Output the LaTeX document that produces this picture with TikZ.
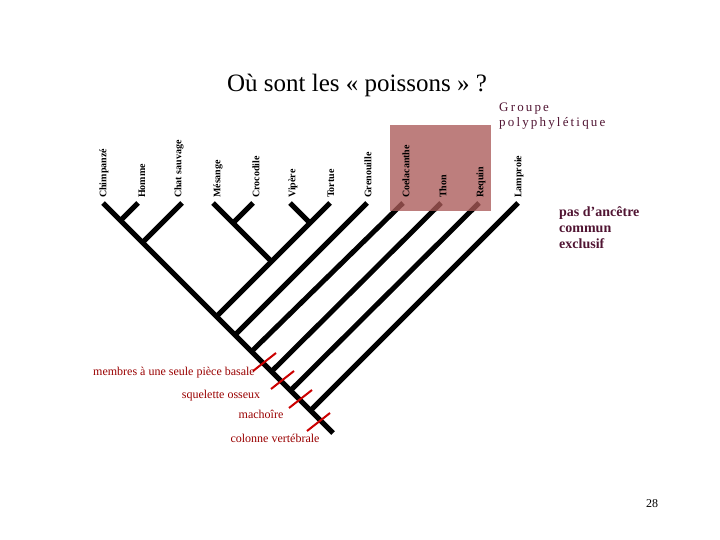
\documentclass[tikz,border=0pt]{standalone}
\usepackage{fontspec}
\setmainfont{Liberation Serif}
\begin{document}
\begin{tikzpicture}[x=1pt,y=-1pt,
  br/.style={line width=5pt},
  tick/.style={draw=red!80!black,line width=2pt},
  taxon/.style={rotate=90,anchor=west,font=\fontsize{10}{12}\selectfont\bfseries,inner sep=0pt},
  red lab/.style={text=red!60!black,font=\fontsize{12}{14}\selectfont,inner sep=0pt},
  purp/.style={text=black!60!red!60!blue,font=\fontsize{14}{16}\selectfont\bfseries,align=left,inner sep=0pt}]
\useasboundingbox (0,0) rectangle (720,540);
\node[font=\fontsize{25}{30}\selectfont,anchor=base] (title) at (357,92) {Où sont les « poissons » ?};
% tips
\foreach \n/\x in {chi/103,hom/138,cha/182,mes/213,cro/253,vip/290,tor/330,gre/367,coe/403,tho/441,req/479,lam/518}
  \coordinate (t\n) at (\x,203);
\coordinate (root) at (333,433);
\coordinate (jhom) at (120.5,220.5);
\coordinate (jcha) at (142.5,242.5);
\coordinate (jmc) at (233,223);
\coordinate (jvt) at (310,223);
\coordinate (jsau) at (271.5,261.5);
\coordinate (jsaut) at (216.5,316.5);
\coordinate (jgre) at (235,335);
\coordinate (jcoe) at (251.5,351.5);
\coordinate (jtho) at (271.5,371.5);
\coordinate (jreq) at (290.5,390.5);
\coordinate (jlam) at (310.5,410.5);
\draw[br] (tchi) -- (root);
\draw[br] (thom) -- (jhom);
\draw[br] (tcha) -- (jcha);
\draw[br] (tmes) -- (jsau);
\draw[br] (tcro) -- (jmc);
\draw[br] (tvip) -- (jvt);
\draw[br] (ttor) -- (jsaut);
\draw[br] (tgre) -- (jgre);
\draw[br] (tcoe) -- (jcoe);
\draw[br] (ttho) -- (jtho);
\draw[br] (treq) -- (jreq);
\draw[br] (tlam) -- (jlam);
\fill[fill={rgb,255:red,170;green,90;blue,88},opacity=0.78] (390,125) rectangle (491,211);
\foreach \n/\x/\t in {chi/104/Chimpanzé,hom/142/Homme,cha/179/Chat sauvage,mes/218/Mésange,cro/256/Crocodile,vip/293/Vipère,tor/331/Tortue,gre/368/Grenouille,coe/406/Coelacanthe,tho/443/Thon,req/481/Requin,lam/519/Lamproie}
  \node[taxon] (l\n) at (\x,198) {\t};
\node[font=\fontsize{13}{15}\selectfont,text={rgb,255:red,80;green,20;blue,50},align=left,anchor=north west,inner sep=0pt] (grp) at (499,103) {G\,r\,o\,u\,p\,e\\p\,o\,l\,y\,p\,h\,y\,l\,é\,t\,i\,q\,u\,e};
\node[purp,text={rgb,255:red,80;green,20;blue,50},anchor=north west] (pas) at (559,206) {pas d’ancêtre\\commun\\exclusif};
% ticks
\coordinate (a1) at (253,371); \coordinate (b1) at (276,353);
\coordinate (a2) at (271,389); \coordinate (b2) at (294,371);
\coordinate (a3) at (289,408); \coordinate (b3) at (312,390);
\coordinate (a4) at (307,431); \coordinate (b4) at (330,413);
\draw[tick] (a1) -- (b1);
\draw[tick] (a2) -- (b2);
\draw[tick] (a3) -- (b3);
\draw[tick] (a4) -- (b4);
\node[red lab,anchor=east] (m1) at (255,373) {membres à une seule pièce basale};
\node[red lab] (m2) at (221,396) {squelette osseux};
\node[red lab] (m3) at (261,414) {machoîre};
\node[red lab] (m4) at (275,438) {colonne vertébrale};
\node[font=\fontsize{12}{14}\selectfont] (pg) at (652,504) {28};
\end{tikzpicture}
\end{document}
